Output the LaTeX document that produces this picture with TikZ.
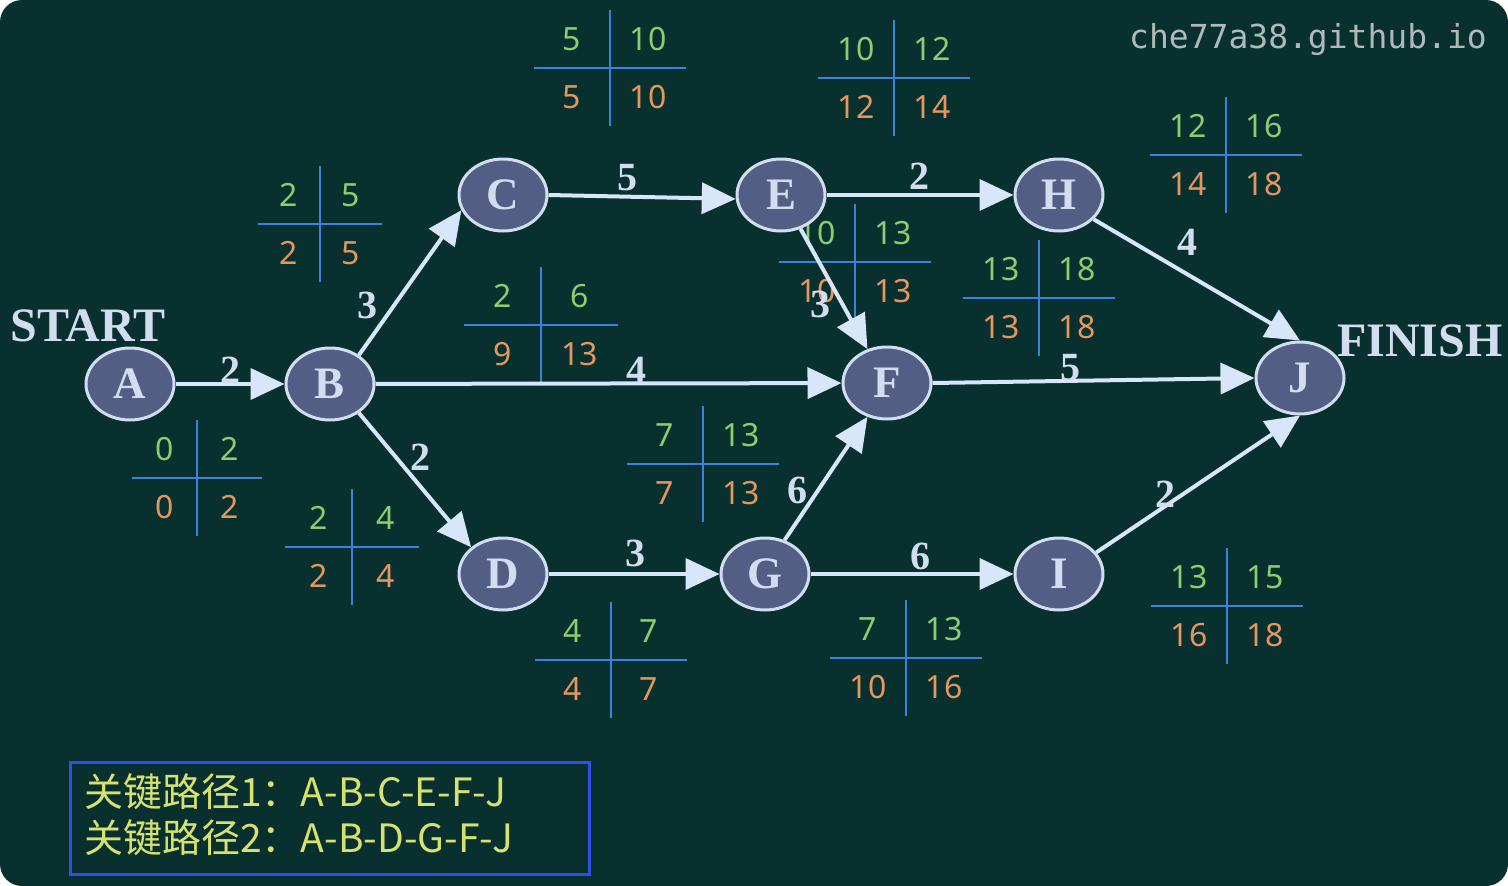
\documentclass[tikz,border=0pt]{standalone}
\usepackage{fontspec}
\setmainfont{Liberation Serif}
\newfontfamily\numfont{Noto Sans}
\newfontfamily\cjk{Noto Sans CJK SC}
\newfontfamily\wmfont{DejaVu Sans Mono}
\usetikzlibrary{arrows.meta,shapes.geometric}

\definecolor{board}{RGB}{8,48,46}
\definecolor{nodefill}{RGB}{82,94,132}
\definecolor{nodeline}{RGB}{210,222,240}
\definecolor{arrowc}{RGB}{215,230,248}
\definecolor{earlyc}{RGB}{140,205,110}
\definecolor{latec}{RGB}{228,150,95}
\definecolor{crossc}{RGB}{60,130,220}
\definecolor{boxc}{RGB}{50,80,230}
\definecolor{pathc}{RGB}{215,225,110}
\definecolor{wmc}{RGB}{175,185,185}

\tikzset{
  event/.style={ellipse, draw=nodeline, line width=3pt, fill=nodefill,
    minimum width=88pt, minimum height=72pt, inner sep=0pt,
    text=nodeline, font=\fontsize{45}{45}\selectfont\bfseries},
  act/.style={draw=arrowc, line width=4pt, -{Triangle[length=34pt,width=31pt]}},
  dur/.style={text=nodeline, inner sep=1pt, font=\fontsize{40}{40}\selectfont\bfseries},
  crossline/.style={draw=crossc, line width=2.5pt},
  early/.style={text=earlyc, inner sep=0pt, font=\numfont\fontsize{32}{32}\selectfont},
  late/.style={text=latec, inner sep=0pt, font=\numfont\fontsize{32}{32}\selectfont},
  endword/.style={text=nodeline, inner sep=0pt, font=\fontsize{48}{48}\selectfont\bfseries}
}

% cross of times: prefix, x, y, half width, ES, EF, LS, LF
\newcommand{\timecross}[8]{%
  \draw[crossline] ({#2-#4},#3) -- ({#2+#4},#3);
  \draw[crossline] (#2,{#3-58}) -- (#2,{#3+58});
  \node[early] (#1es) at ({#2-#4/2},{#3-29}) {#5};
  \node[early] (#1ef) at ({#2+#4/2},{#3-29}) {#6};
  \node[late] (#1ls) at ({#2-#4/2},{#3+29}) {#7};
  \node[late] (#1lf) at ({#2+#4/2},{#3+29}) {#8};
}

\begin{document}
\begin{tikzpicture}[x=1pt,y=-1pt]
  % Board.
  \useasboundingbox (0,0) rectangle (1508,886);
  \fill[white] (0,0) rectangle (1508,886);
  \fill[board, rounded corners=22pt] (0,0) rectangle (1508,886);

  % Time crosses.
  \timecross{tA}{197}{478}{65}{0}{2}{0}{2}
  \timecross{tB}{320}{224}{62}{2}{5}{2}{5}
  \timecross{tC}{610}{68}{76}{5}{10}{5}{10}
  \timecross{tD}{352}{547}{67}{2}{4}{2}{4}
  \timecross{tBF}{541}{325}{77}{2}{6}{9}{13}
  \timecross{tE}{894}{78}{76}{10}{12}{12}{14}
  \timecross{tEF}{855}{262}{76}{10}{13}{10}{13}
  \timecross{tF}{1039}{298}{76}{13}{18}{13}{18}
  \timecross{tH}{1226}{155}{76}{12}{16}{14}{18}
  \timecross{tGF}{703}{464}{76}{7}{13}{7}{13}
  \timecross{tG}{611}{660}{76}{4}{7}{4}{7}
  \timecross{tGI}{906}{658}{76}{7}{13}{10}{16}
  \timecross{tI}{1227}{606}{76}{13}{15}{16}{18}

  % Events.
  \node[event] (A) at (130,384) {A};
  \node[event] (B) at (330,384) {B};
  \node[event] (C) at (503,195) {C};
  \node[event] (D) at (503,574) {D};
  \node[event] (E) at (781,195) {E};
  \node[event] (F) at (887,383) {F};
  \node[event] (G) at (765,574) {G};
  \node[event] (H) at (1059,195) {H};
  \node[event] (I) at (1059,574) {I};
  \node[event] (J) at (1300,378) {J};
  \node[endword] (start) at (88,326) {START};
  \node[endword] (finish) at (1420,341) {FINISH};

  % Activities.
  \draw[act] (A) -- (B);
  \draw[act] (B.45) -- (C.200);
  \draw[act] (B.-45) -- (D.140);
  \draw[act] (B) -- (F);
  \draw[act] (C.east) -- (E.185);
  \draw[act] (E) -- (H);
  \draw[act] (E.-60) -- (F.120);
  \draw[act] (D) -- (G);
  \draw[act] (G.60) -- (F.240);
  \draw[act] (G) -- (I);
  \draw[act] (H.-35) -- (J.north);
  \draw[act] (F.east) -- (J.west);
  \draw[act] (I.30) -- (J.south);

  % Durations.
  \node[dur] (dAB) at (230,370) {2};
  \node[dur] (dBC) at (367,305) {3};
  \node[dur] (dBD) at (420,457) {2};
  \node[dur] (dBF) at (636,370) {4};
  \node[dur] (dCE) at (627,178) {5};
  \node[dur] (dEH) at (919,176) {2};
  \node[dur] (dEF) at (820,304) {3};
  \node[dur] (dDG) at (635,553) {3};
  \node[dur] (dGF) at (797,490) {6};
  \node[dur] (dGI) at (920,556) {6};
  \node[dur] (dHJ) at (1187,242) {4};
  \node[dur] (dFJ) at (1070,368) {5};
  \node[dur] (dIJ) at (1165,494) {2};

  % Critical paths.
  \draw[boxc, line width=3pt] (70,762) rectangle (589,874);
  \node[text=pathc, anchor=west, inner sep=0pt, font=\cjk\fontsize{39}{39}\selectfont]
    (path1) at (84,792) {关键路径1：A-B-C-E-F-J};
  \node[text=pathc, anchor=west, inner sep=0pt, font=\cjk\fontsize{39}{39}\selectfont]
    (path2) at (84,838) {关键路径2：A-B-D-G-F-J};

  % Watermark.
  \node[text=wmc, anchor=east, inner sep=0pt, font=\wmfont\fontsize{33}{33}\selectfont]
    (mark) at (1487,40) {che77a38.github.io};
\end{tikzpicture}
\end{document}
